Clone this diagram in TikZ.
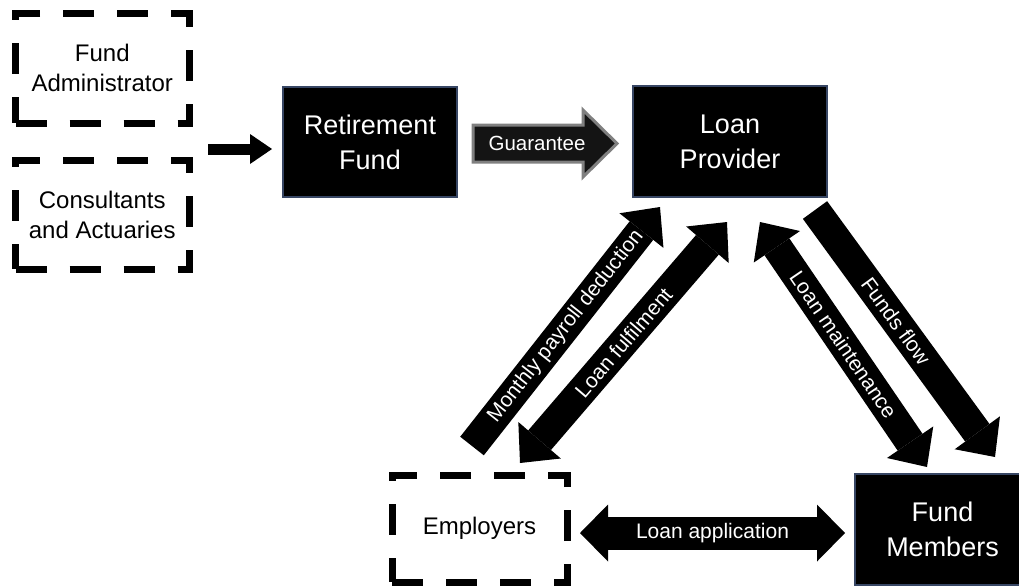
\documentclass[tikz,border=0pt]{standalone}
\usepackage{fontspec}
\setmainfont{Liberation Sans}
\usetikzlibrary{arrows.meta}
\definecolor{bordercol}{RGB}{55,70,100}
\tikzset{
  bigtip/.tip={Triangle[width=56pt,length=30pt,line width=0pt]},
  apptip/.tip={Triangle[width=57pt,length=28pt,line width=0pt]},
  smalltip/.tip={Triangle[width=30pt,length=22pt,line width=0pt]},
}
\begin{document}
\begin{tikzpicture}[x=1pt,y=-1pt,
  blackbox/.style={draw=bordercol, line width=1.5pt, fill=black, text=white, align=center,
    inner sep=0pt, font=\fontsize{27}{35}\selectfont, minimum height=110pt},
  dashbox/.style={draw=black, line width=7pt, dash pattern=on 31pt off 23pt, align=center,
    inner sep=0pt, font=\fontsize{24}{30}\selectfont},
  diagarrow/.style={draw=black, line width=30pt},
  arrowlabel/.style={text=white, font=\fontsize{21}{21}\selectfont, inner sep=0pt}
]
\useasboundingbox (0,0) rectangle (1019,587);

% dashed boxes
\node[dashbox, minimum width=173.5pt, minimum height=109.5pt] (fa) at (102.25,68.25) {Fund\\Administrator};
\node[dashbox, minimum width=173.5pt, minimum height=109pt] (ca) at (102.25,214.5) {Consultants\\and Actuaries};
\node[dashbox, minimum width=175pt, minimum height=107pt] (emp) at (479.5,528.5) {Employers};

% black boxes
\node[blackbox, minimum width=174pt] (rf) at (370,142) {Retirement\\Fund};
\node[blackbox, minimum width=194pt, minimum height=111pt] (lp) at (730,141.5) {Loan\\Provider};
\node[blackbox, minimum width=175pt, minimum height=111pt] (fm) at (942.5,529.5) {Fund\\Members};

% arrow into retirement fund
\coordinate (inS) at (208,149);
\coordinate (inE) at (272,149);
\draw[draw=black, line width=11pt, -smalltip] (inS) -- (inE);

% guarantee arrow
\draw[fill=black!92, draw=black!50, line width=3pt, line join=miter]
  (473,125) -- (583,125) -- (583,110) -- (617,143.5) -- (583,177) -- (583,162) -- (473,162) -- cycle;
\node[arrowlabel, font=\fontsize{20.5}{20.5}\selectfont] (guar) at (537,143) {Guarantee};

% diagonal arrows
\coordinate (mpS) at (472,446);
\coordinate (mpE) at (660,207);
\draw[diagarrow, -bigtip] (mpS) -- (mpE) node[arrowlabel, midway, sloped] {Monthly payroll deduction};

\coordinate (lfS) at (520,463);
\coordinate (lfE) at (727,222);
\draw[diagarrow, bigtip-bigtip] (lfS) -- (lfE) node[arrowlabel, midway, sloped] {Loan fulfilment};

\coordinate (lmS) at (760,222);
\coordinate (lmE) at (927,467);
\draw[diagarrow, bigtip-bigtip] (lmS) -- (lmE) node[arrowlabel, midway, sloped] {Loan maintenance};

\coordinate (ffS) at (815,210);
\coordinate (ffE) at (995,457);
\draw[diagarrow, -bigtip] (ffS) -- (ffE) node[arrowlabel, pos=0.45, sloped] {Funds flow};

% loan application
\coordinate (laS) at (580,533);
\coordinate (laE) at (845,533);
\draw[draw=black, line width=33pt, apptip-apptip] (laS) -- (laE) node[arrowlabel, midway] {Loan application};
\end{tikzpicture}
\end{document}
